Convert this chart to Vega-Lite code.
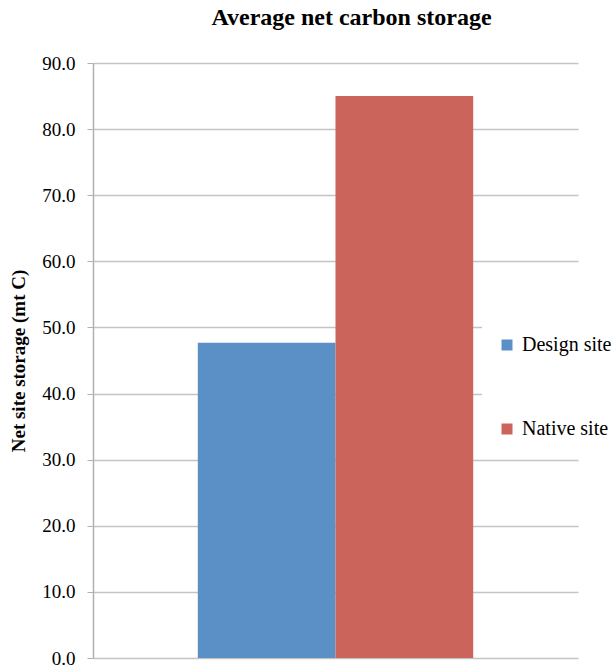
{
  "$schema": "https://vega.github.io/schema/vega-lite/v6.json",
  "autosize": "none",
  "width": 485,
  "height": 595,
  "padding": {"left": 93, "top": 63, "right": 35, "bottom": 11},
  "background": "white",
  "title": {
    "text": "Average net carbon storage",
    "font": "Liberation Serif",
    "fontSize": 24,
    "fontWeight": "bold",
    "color": "#000000",
    "anchor": "middle",
    "dx": 16,
    "offset": 24
  },
  "data": {
    "values": [
      {"site": "Design site", "storage": 47.7},
      {"site": "Native site", "storage": 85.0}
    ]
  },
  "mark": {"type": "bar", "stroke": null},
  "encoding": {
    "x": {
      "field": "site",
      "type": "nominal",
      "scale": {"paddingInner": 0, "paddingOuter": 0.761},
      "axis": {"labels": false, "ticks": false, "domain": false, "title": null}
    },
    "y": {
      "field": "storage",
      "type": "quantitative",
      "scale": {"domain": [0, 90], "nice": false},
      "axis": {
        "values": [0, 10, 20, 30, 40, 50, 60, 70, 80, 90],
        "format": ".1f",
        "title": "Net site storage (mt C)",
        "titleFont": "Liberation Serif",
        "titleFontSize": 19,
        "titleFontWeight": "bold",
        "titleColor": "#000000",
        "titlePadding": 13,
        "labelFont": "Liberation Serif",
        "labelFontSize": 19,
        "labelColor": "#000000",
        "labelPadding": 12,
        "grid": true,
        "gridColor": "#c4c4c4",
        "gridWidth": 1.5,
        "tickColor": "#b0b0b0",
        "tickSize": 6,
        "domainColor": "#b0b0b0",
        "domainWidth": 1.5
      }
    },
    "color": {
      "field": "site",
      "type": "nominal",
      "scale": {"domain": ["Design site", "Native site"], "range": ["#5B90C6", "#CB655C"]},
      "legend": {
        "title": null,
        "orient": "none",
        "legendX": 389,
        "legendY": 257,
        "padding": 15,
        "fillColor": "white",
        "symbolType": "square",
        "symbolSize": 121,
        "symbolStrokeWidth": 0,
        "labelFont": "Liberation Serif",
        "labelFontSize": 20,
        "labelColor": "#000000",
        "labelOffset": 5,
        "rowPadding": 64
      }
    }
  },
  "config": {"view": {"stroke": null}}
}
